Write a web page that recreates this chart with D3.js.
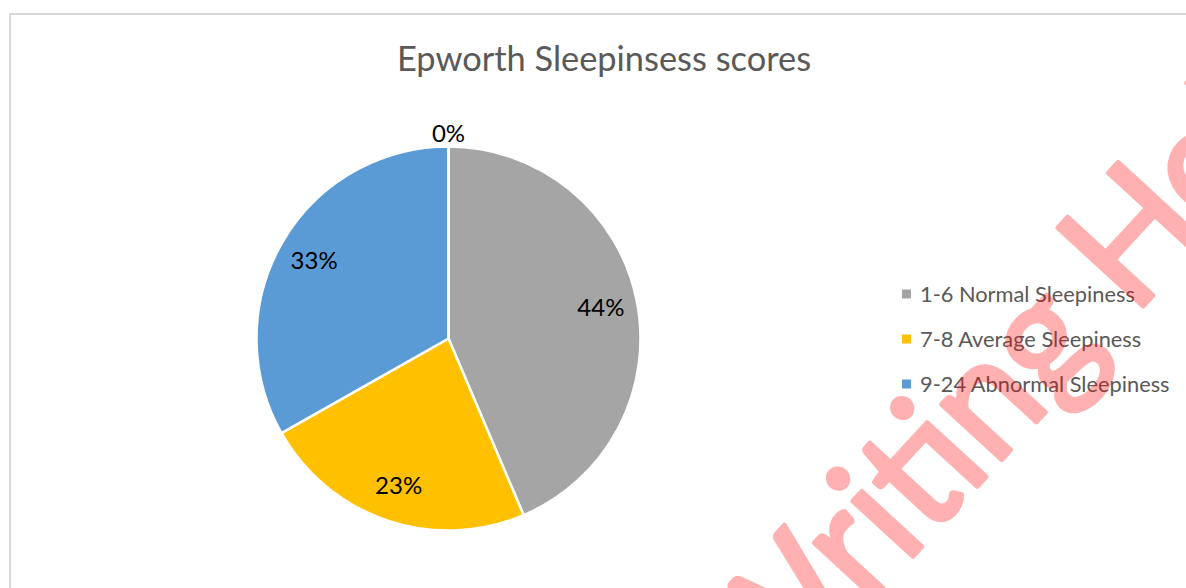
<!DOCTYPE html>
<html>
<head>
<meta charset="utf-8">
<script src="https://cdn.jsdelivr.net/npm/d3@7"></script>
<style>
  html, body { margin: 0; padding: 0; background: #fff; }
  svg { display: block; }
</style>
</head>
<body>
<div id="chartSection"></div>
<script>
// chart data
var title = "Epworth Sleepinsess scores";
var categories = ["1-6 Normal Sleepiness", "7-8 Average Sleepiness", "9-24 Abnormal Sleepiness", ""];
var values = [43.6, 23.2, 33.2, 0];
var colors = ["#a5a5a5", "#ffc000", "#5b9bd5", "#ed7d31"];
var watermark = "Writing Help";

var width = 1186, height = 588;

var svg = d3.select("#chartSection").append("svg")
    .attr("width", width)
    .attr("height", height);

// chart frame
svg.append("rect")
    .attr("x", 10).attr("y", 14)
    .attr("width", 1300).attr("height", 700)
    .attr("fill", "#fff")
    .attr("stroke", "#d9d9d9")
    .attr("stroke-width", 2);

svg.append("text")
    .attr("x", 604).attr("y", 71)
    .attr("text-anchor", "middle")
    .style("font-family", "Lato, 'Open Sans', sans-serif")
    .style("font-size", "34.4px")
    .style("fill", "#595959")
    .text(title);

var cx = 448.5, cy = 338.5, r = 192;

var data = categories.map(function(c, i) { return { name: c, value: values[i], color: colors[i] }; });
var total = d3.sum(values);

var pie = d3.pie().sort(null).value(function(d) { return d.value; });
var arc = d3.arc().innerRadius(0).outerRadius(r);
var labelArc = d3.arc().innerRadius(r * 0.81).outerRadius(r * 0.81);
var outerArc = d3.arc().innerRadius(r * 1.07).outerRadius(r * 1.07);

var g = svg.append("g").attr("transform", "translate(" + cx + "," + cy + ")");
var arcs = pie(data);

g.selectAll("path")
    .data(arcs)
    .enter().append("path")
    .attr("d", arc)
    .style("fill", function(d) { return d.data.color; })
    .style("stroke", "#fff")
    .style("stroke-width", 2.5);

g.selectAll("text")
    .data(arcs)
    .enter().append("text")
    .attr("transform", function(d) {
        var p = d.data.value > 0 ? labelArc.centroid(d) : outerArc.centroid(d);
        return "translate(" + p[0] + "," + p[1] + ")";
    })
    .attr("text-anchor", "middle")
    .attr("dy", "0.36em")
    .style("font-family", "Lato, 'Open Sans', sans-serif")
    .style("font-size", "24px")
    .style("fill", "#000")
    .text(function(d) { return Math.round(d.data.value / total * 100) + "%"; });

// legend
var legendData = data.filter(function(d) { return d.name !== ""; });
var legend = svg.append("g").attr("transform", "translate(902,0)");
var rows = legend.selectAll("g")
    .data(legendData)
    .enter().append("g")
    .attr("transform", function(d, i) { return "translate(0," + (294 + i * 45) + ")"; });

rows.append("rect")
    .attr("x", 0).attr("y", -4.5)
    .attr("width", 9).attr("height", 9)
    .style("fill", function(d) { return d.color; });

rows.append("text")
    .attr("x", 18).attr("y", 8)
    .style("font-family", "Lato, 'Open Sans', sans-serif")
    .style("font-size", "21.8px")
    .style("fill", "#595959")
    .text(function(d) { return d.name; });

// watermark on top: a narrow face, first "i" dot and "H" stem put where they sit in the picture
var angle = -47.4, fs = 162;
var wm = svg.append("text")
    .style("font-family", "Lato, sans-serif")
    .style("font-size", fs + "px")
    .style("fill", "#ff0000")
    .style("stroke", "#ff0000")
    .style("stroke-width", 4.5)
    .style("stroke-linejoin", "round")
    .style("opacity", 0.3)
    .text(watermark);
var node = wm.node();
var iMid = node.getStartPositionOfChar(2).x + node.getSubStringLength(2, 1) / 2;
var hStem = node.getStartPositionOfChar(8).x + 0.13 * fs;
var sx = 339 / (hStem - iMid);
wm.attr("transform", "translate(1147,302) rotate(" + angle + ") scale(" + sx + ",1) translate(" + (-hStem) + ",0)");
</script>
</body>
</html>
